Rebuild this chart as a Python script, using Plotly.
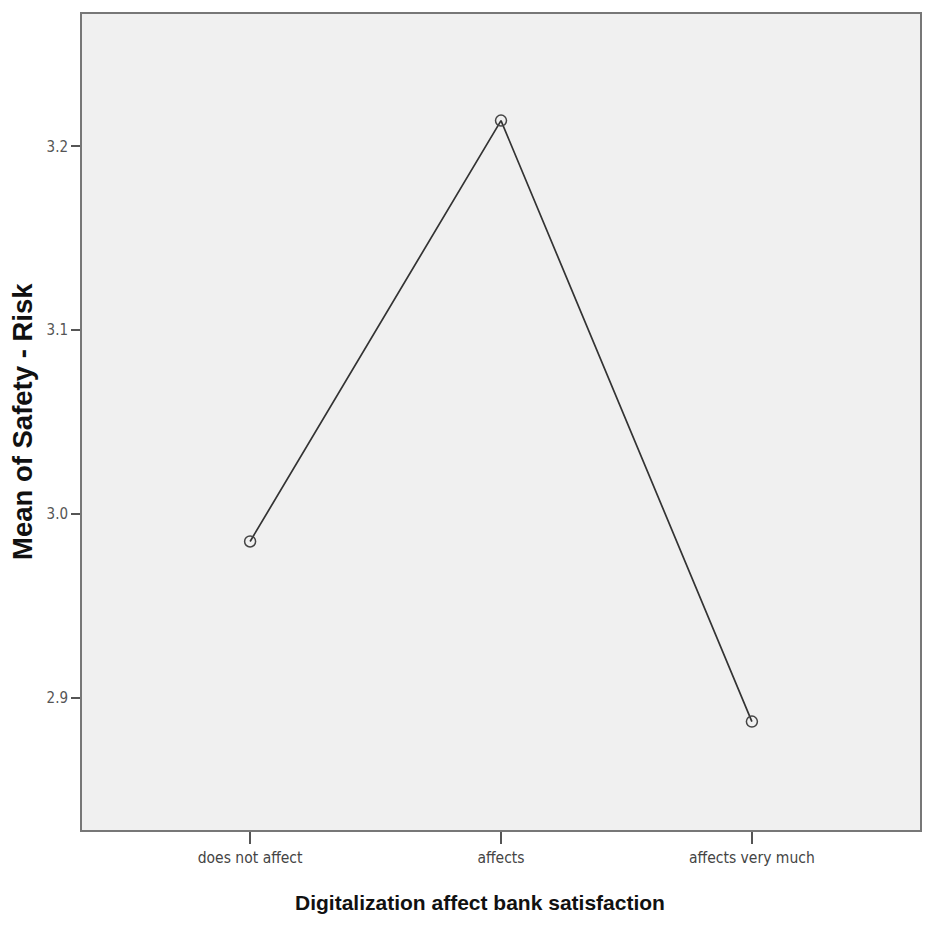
import plotly.graph_objects as go

categories = ["does not affect", "affects", "affects very much"]
means = [2.985, 3.214, 2.887]
y_ticks = [2.9, 3.0, 3.1, 3.2]
y_tick_labels = ["2.9", "3.0", "3.1", "3.2"]

narrow = "DejaVu Sans Condensed, Liberation Sans Narrow, Liberation Sans, Arial"

fig = go.Figure()
fig.add_trace(go.Scatter(
    x=list(range(len(categories))), y=means, mode="lines+markers",
    line=dict(color="#333333", width=1.7),
    marker=dict(symbol="circle-open", size=11, color="#444444", line=dict(width=1.5)),
    showlegend=False,
))

fig.update_layout(
    width=919, height=914,
    margin=dict(l=74, r=7, t=4, b=92),
    plot_bgcolor="#f0f0f0", paper_bgcolor="white",
    xaxis=dict(
        range=[-0.67, 2.67], tickmode="array", tickvals=list(range(len(categories))),
        ticktext=categories, ticks="outside", ticklen=12, tickwidth=1.5, tickcolor="#555555",
        tickfont=dict(family=narrow, size=15.5, color="#444444"),
        showgrid=False, zeroline=False, showline=True, linecolor="#777777", linewidth=2,
        mirror=True,
    ),
    yaxis=dict(
        range=[2.828, 3.272], tickmode="array", tickvals=y_ticks, ticktext=y_tick_labels,
        ticks="outside", ticklen=9, tickwidth=2, tickcolor="#555555",
        tickfont=dict(family=narrow, size=15, color="#555555"),
        showgrid=False, zeroline=False, showline=True, linecolor="#777777", linewidth=2,
        mirror=True,
    ),
    annotations=[
        dict(text="<b>Mean of Safety - Risk</b>", xref="paper", yref="paper",
             x=0, xshift=-60, y=0.5, textangle=-90, showarrow=False,
             font=dict(family="Liberation Sans, Arial", size=27.5, color="#111111"),
             xanchor="center", yanchor="middle"),
        dict(text="<b>Digitalization affect bank satisfaction</b>", xref="paper", yref="paper",
             x=0.475, y=0, yshift=-72, showarrow=False,
             font=dict(family="Liberation Sans, Arial", size=21, color="#111111"),
             xanchor="center", yanchor="middle"),
    ],
)

fig.write_html("out.html")
